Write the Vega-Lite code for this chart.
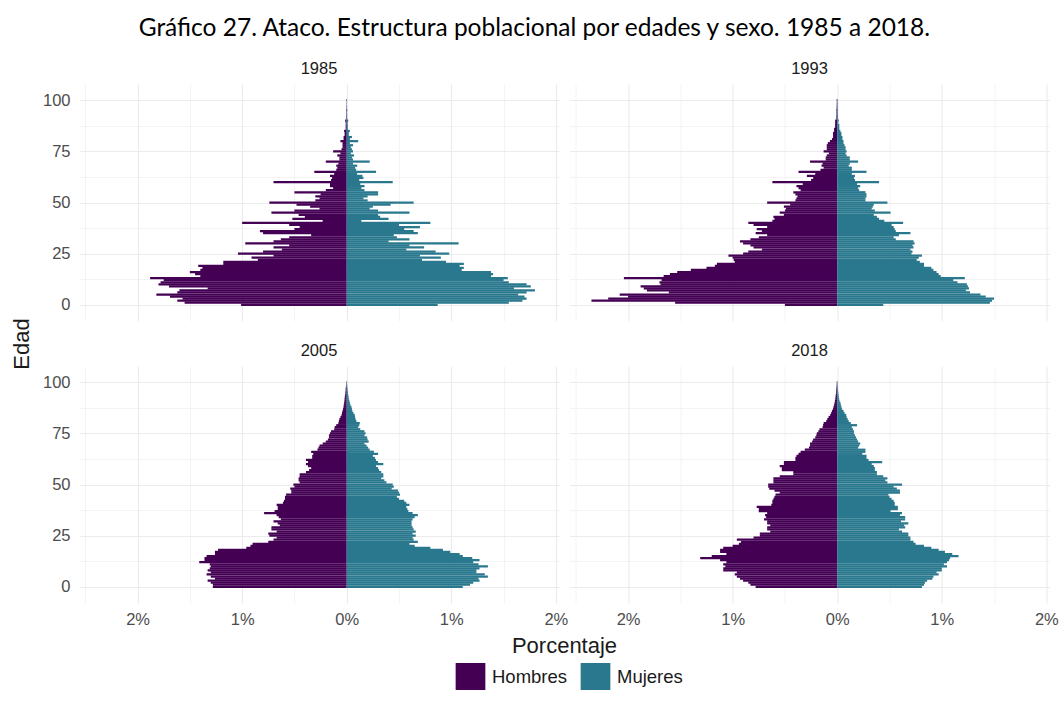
{
"$schema":"https://vega.github.io/schema/vega-lite/v6.json",
"background":"white",
"padding":{"left":10,"top":16,"right":5,"bottom":5},
"title":{"text":"Gráfico 27. Ataco. Estructura poblacional por edades y sexo. 1985 a 2018.","font":"Lato","fontSize":24.5,"fontWeight":"normal","color":"#000000","anchor":"middle","frame":"bounds","offset":19},
"datasets":{"pob":[
{"anio":1985,"sexo":"Hombres","edad":0,"pct":-1.01},{"anio":1985,"sexo":"Hombres","edad":1,"pct":-1.55},{"anio":1985,"sexo":"Hombres","edad":2,"pct":-1.62},{"anio":1985,"sexo":"Hombres","edad":3,"pct":-1.57},{"anio":1985,"sexo":"Hombres","edad":4,"pct":-1.69},{"anio":1985,"sexo":"Hombres","edad":5,"pct":-1.82},{"anio":1985,"sexo":"Hombres","edad":6,"pct":-1.62},{"anio":1985,"sexo":"Hombres","edad":7,"pct":-1.60},{"anio":1985,"sexo":"Hombres","edad":8,"pct":-1.33},{"anio":1985,"sexo":"Hombres","edad":9,"pct":-1.70},
{"anio":1985,"sexo":"Hombres","edad":10,"pct":-1.80},{"anio":1985,"sexo":"Hombres","edad":11,"pct":-1.78},{"anio":1985,"sexo":"Hombres","edad":12,"pct":-1.75},{"anio":1985,"sexo":"Hombres","edad":13,"pct":-1.88},{"anio":1985,"sexo":"Hombres","edad":14,"pct":-1.40},{"anio":1985,"sexo":"Hombres","edad":15,"pct":-1.45},{"anio":1985,"sexo":"Hombres","edad":16,"pct":-1.50},{"anio":1985,"sexo":"Hombres","edad":17,"pct":-1.40},{"anio":1985,"sexo":"Hombres","edad":18,"pct":-1.38},{"anio":1985,"sexo":"Hombres","edad":19,"pct":-1.42},
{"anio":1985,"sexo":"Hombres","edad":20,"pct":-1.18},{"anio":1985,"sexo":"Hombres","edad":21,"pct":-1.18},{"anio":1985,"sexo":"Hombres","edad":22,"pct":-0.85},{"anio":1985,"sexo":"Hombres","edad":23,"pct":-0.91},{"anio":1985,"sexo":"Hombres","edad":24,"pct":-0.70},{"anio":1985,"sexo":"Hombres","edad":25,"pct":-1.04},{"anio":1985,"sexo":"Hombres","edad":26,"pct":-0.80},{"anio":1985,"sexo":"Hombres","edad":27,"pct":-0.62},{"anio":1985,"sexo":"Hombres","edad":28,"pct":-0.70},{"anio":1985,"sexo":"Hombres","edad":29,"pct":-0.55},
{"anio":1985,"sexo":"Hombres","edad":30,"pct":-0.97},{"anio":1985,"sexo":"Hombres","edad":31,"pct":-0.70},{"anio":1985,"sexo":"Hombres","edad":32,"pct":-0.63},{"anio":1985,"sexo":"Hombres","edad":33,"pct":-0.55},{"anio":1985,"sexo":"Hombres","edad":34,"pct":-0.34},{"anio":1985,"sexo":"Hombres","edad":35,"pct":-0.80},{"anio":1985,"sexo":"Hombres","edad":36,"pct":-0.83},{"anio":1985,"sexo":"Hombres","edad":37,"pct":-0.50},{"anio":1985,"sexo":"Hombres","edad":38,"pct":-0.45},{"anio":1985,"sexo":"Hombres","edad":39,"pct":-0.55},
{"anio":1985,"sexo":"Hombres","edad":40,"pct":-1.00},{"anio":1985,"sexo":"Hombres","edad":41,"pct":-0.23},{"anio":1985,"sexo":"Hombres","edad":42,"pct":-0.52},{"anio":1985,"sexo":"Hombres","edad":43,"pct":-0.40},{"anio":1985,"sexo":"Hombres","edad":44,"pct":-0.46},{"anio":1985,"sexo":"Hombres","edad":45,"pct":-0.72},{"anio":1985,"sexo":"Hombres","edad":46,"pct":-0.50},{"anio":1985,"sexo":"Hombres","edad":47,"pct":-0.26},{"anio":1985,"sexo":"Hombres","edad":48,"pct":-0.35},{"anio":1985,"sexo":"Hombres","edad":49,"pct":-0.48},
{"anio":1985,"sexo":"Hombres","edad":50,"pct":-0.74},{"anio":1985,"sexo":"Hombres","edad":51,"pct":-0.30},{"anio":1985,"sexo":"Hombres","edad":52,"pct":-0.26},{"anio":1985,"sexo":"Hombres","edad":53,"pct":-0.30},{"anio":1985,"sexo":"Hombres","edad":54,"pct":-0.25},{"anio":1985,"sexo":"Hombres","edad":55,"pct":-0.50},{"anio":1985,"sexo":"Hombres","edad":56,"pct":-0.20},{"anio":1985,"sexo":"Hombres","edad":57,"pct":-0.13},{"anio":1985,"sexo":"Hombres","edad":58,"pct":-0.16},{"anio":1985,"sexo":"Hombres","edad":59,"pct":-0.16},
{"anio":1985,"sexo":"Hombres","edad":60,"pct":-0.70},{"anio":1985,"sexo":"Hombres","edad":61,"pct":-0.15},{"anio":1985,"sexo":"Hombres","edad":62,"pct":-0.14},{"anio":1985,"sexo":"Hombres","edad":63,"pct":-0.16},{"anio":1985,"sexo":"Hombres","edad":64,"pct":-0.12},{"anio":1985,"sexo":"Hombres","edad":65,"pct":-0.31},{"anio":1985,"sexo":"Hombres","edad":66,"pct":-0.10},{"anio":1985,"sexo":"Hombres","edad":67,"pct":-0.09},{"anio":1985,"sexo":"Hombres","edad":68,"pct":-0.10},{"anio":1985,"sexo":"Hombres","edad":69,"pct":-0.08},
{"anio":1985,"sexo":"Hombres","edad":70,"pct":-0.20},{"anio":1985,"sexo":"Hombres","edad":71,"pct":-0.07},{"anio":1985,"sexo":"Hombres","edad":72,"pct":-0.07},{"anio":1985,"sexo":"Hombres","edad":73,"pct":-0.09},{"anio":1985,"sexo":"Hombres","edad":74,"pct":-0.06},{"anio":1985,"sexo":"Hombres","edad":75,"pct":-0.13},{"anio":1985,"sexo":"Hombres","edad":76,"pct":-0.05},{"anio":1985,"sexo":"Hombres","edad":77,"pct":-0.04},{"anio":1985,"sexo":"Hombres","edad":78,"pct":-0.04},{"anio":1985,"sexo":"Hombres","edad":79,"pct":-0.04},
{"anio":1985,"sexo":"Hombres","edad":80,"pct":-0.06},{"anio":1985,"sexo":"Hombres","edad":81,"pct":-0.03},{"anio":1985,"sexo":"Hombres","edad":82,"pct":-0.03},{"anio":1985,"sexo":"Hombres","edad":83,"pct":-0.02},{"anio":1985,"sexo":"Hombres","edad":84,"pct":-0.02},{"anio":1985,"sexo":"Hombres","edad":85,"pct":-0.025},{"anio":1985,"sexo":"Hombres","edad":86,"pct":-0.01},{"anio":1985,"sexo":"Hombres","edad":87,"pct":-0.01},{"anio":1985,"sexo":"Hombres","edad":88,"pct":-0.01},{"anio":1985,"sexo":"Hombres","edad":89,"pct":-0.01},
{"anio":1985,"sexo":"Hombres","edad":90,"pct":-0.015},{"anio":1985,"sexo":"Hombres","edad":91,"pct":-0.005},{"anio":1985,"sexo":"Hombres","edad":92,"pct":-0.005},{"anio":1985,"sexo":"Hombres","edad":93,"pct":-0.004},{"anio":1985,"sexo":"Hombres","edad":94,"pct":-0.004},{"anio":1985,"sexo":"Hombres","edad":95,"pct":-0.006},{"anio":1985,"sexo":"Hombres","edad":96,"pct":-0.003},{"anio":1985,"sexo":"Hombres","edad":97,"pct":-0.003},{"anio":1985,"sexo":"Hombres","edad":98,"pct":-0.002},{"anio":1985,"sexo":"Hombres","edad":99,"pct":-0.002},{"anio":1985,"sexo":"Hombres","edad":100,"pct":-0.004},
{"anio":1985,"sexo":"Mujeres","edad":0,"pct":0.87},{"anio":1985,"sexo":"Mujeres","edad":1,"pct":1.55},{"anio":1985,"sexo":"Mujeres","edad":2,"pct":1.68},{"anio":1985,"sexo":"Mujeres","edad":3,"pct":1.72},{"anio":1985,"sexo":"Mujeres","edad":4,"pct":1.70},{"anio":1985,"sexo":"Mujeres","edad":5,"pct":1.64},{"anio":1985,"sexo":"Mujeres","edad":6,"pct":1.72},{"anio":1985,"sexo":"Mujeres","edad":7,"pct":1.80},{"anio":1985,"sexo":"Mujeres","edad":8,"pct":1.60},{"anio":1985,"sexo":"Mujeres","edad":9,"pct":1.76},
{"anio":1985,"sexo":"Mujeres","edad":10,"pct":1.72},{"anio":1985,"sexo":"Mujeres","edad":11,"pct":1.55},{"anio":1985,"sexo":"Mujeres","edad":12,"pct":1.50},{"anio":1985,"sexo":"Mujeres","edad":13,"pct":1.54},{"anio":1985,"sexo":"Mujeres","edad":14,"pct":1.38},{"anio":1985,"sexo":"Mujeres","edad":15,"pct":1.40},{"anio":1985,"sexo":"Mujeres","edad":16,"pct":1.38},{"anio":1985,"sexo":"Mujeres","edad":17,"pct":1.10},{"anio":1985,"sexo":"Mujeres","edad":18,"pct":1.12},{"anio":1985,"sexo":"Mujeres","edad":19,"pct":1.08},
{"anio":1985,"sexo":"Mujeres","edad":20,"pct":1.12},{"anio":1985,"sexo":"Mujeres","edad":21,"pct":0.95},{"anio":1985,"sexo":"Mujeres","edad":22,"pct":0.72},{"anio":1985,"sexo":"Mujeres","edad":23,"pct":0.90},{"anio":1985,"sexo":"Mujeres","edad":24,"pct":0.70},{"anio":1985,"sexo":"Mujeres","edad":25,"pct":0.98},{"anio":1985,"sexo":"Mujeres","edad":26,"pct":0.85},{"anio":1985,"sexo":"Mujeres","edad":27,"pct":0.57},{"anio":1985,"sexo":"Mujeres","edad":28,"pct":0.74},{"anio":1985,"sexo":"Mujeres","edad":29,"pct":0.60},
{"anio":1985,"sexo":"Mujeres","edad":30,"pct":1.07},{"anio":1985,"sexo":"Mujeres","edad":31,"pct":0.40},{"anio":1985,"sexo":"Mujeres","edad":32,"pct":0.60},{"anio":1985,"sexo":"Mujeres","edad":33,"pct":0.48},{"anio":1985,"sexo":"Mujeres","edad":34,"pct":0.45},{"anio":1985,"sexo":"Mujeres","edad":35,"pct":0.68},{"anio":1985,"sexo":"Mujeres","edad":36,"pct":0.64},{"anio":1985,"sexo":"Mujeres","edad":37,"pct":0.55},{"anio":1985,"sexo":"Mujeres","edad":38,"pct":0.70},{"anio":1985,"sexo":"Mujeres","edad":39,"pct":0.50},
{"anio":1985,"sexo":"Mujeres","edad":40,"pct":0.80},{"anio":1985,"sexo":"Mujeres","edad":41,"pct":0.14},{"anio":1985,"sexo":"Mujeres","edad":42,"pct":0.40},{"anio":1985,"sexo":"Mujeres","edad":43,"pct":0.32},{"anio":1985,"sexo":"Mujeres","edad":44,"pct":0.30},{"anio":1985,"sexo":"Mujeres","edad":45,"pct":0.60},{"anio":1985,"sexo":"Mujeres","edad":46,"pct":0.30},{"anio":1985,"sexo":"Mujeres","edad":47,"pct":0.22},{"anio":1985,"sexo":"Mujeres","edad":48,"pct":0.25},{"anio":1985,"sexo":"Mujeres","edad":49,"pct":0.42},
{"anio":1985,"sexo":"Mujeres","edad":50,"pct":0.64},{"anio":1985,"sexo":"Mujeres","edad":51,"pct":0.20},{"anio":1985,"sexo":"Mujeres","edad":52,"pct":0.16},{"anio":1985,"sexo":"Mujeres","edad":53,"pct":0.20},{"anio":1985,"sexo":"Mujeres","edad":54,"pct":0.30},{"anio":1985,"sexo":"Mujeres","edad":55,"pct":0.30},{"anio":1985,"sexo":"Mujeres","edad":56,"pct":0.17},{"anio":1985,"sexo":"Mujeres","edad":57,"pct":0.14},{"anio":1985,"sexo":"Mujeres","edad":58,"pct":0.17},{"anio":1985,"sexo":"Mujeres","edad":59,"pct":0.13},
{"anio":1985,"sexo":"Mujeres","edad":60,"pct":0.44},{"anio":1985,"sexo":"Mujeres","edad":61,"pct":0.12},{"anio":1985,"sexo":"Mujeres","edad":62,"pct":0.16},{"anio":1985,"sexo":"Mujeres","edad":63,"pct":0.15},{"anio":1985,"sexo":"Mujeres","edad":64,"pct":0.10},{"anio":1985,"sexo":"Mujeres","edad":65,"pct":0.28},{"anio":1985,"sexo":"Mujeres","edad":66,"pct":0.09},{"anio":1985,"sexo":"Mujeres","edad":67,"pct":0.08},{"anio":1985,"sexo":"Mujeres","edad":68,"pct":0.10},{"anio":1985,"sexo":"Mujeres","edad":69,"pct":0.06},
{"anio":1985,"sexo":"Mujeres","edad":70,"pct":0.22},{"anio":1985,"sexo":"Mujeres","edad":71,"pct":0.06},{"anio":1985,"sexo":"Mujeres","edad":72,"pct":0.05},{"anio":1985,"sexo":"Mujeres","edad":73,"pct":0.07},{"anio":1985,"sexo":"Mujeres","edad":74,"pct":0.04},{"anio":1985,"sexo":"Mujeres","edad":75,"pct":0.06},{"anio":1985,"sexo":"Mujeres","edad":76,"pct":0.05},{"anio":1985,"sexo":"Mujeres","edad":77,"pct":0.04},{"anio":1985,"sexo":"Mujeres","edad":78,"pct":0.06},{"anio":1985,"sexo":"Mujeres","edad":79,"pct":0.03},
{"anio":1985,"sexo":"Mujeres","edad":80,"pct":0.11},{"anio":1985,"sexo":"Mujeres","edad":81,"pct":0.03},{"anio":1985,"sexo":"Mujeres","edad":82,"pct":0.05},{"anio":1985,"sexo":"Mujeres","edad":83,"pct":0.02},{"anio":1985,"sexo":"Mujeres","edad":84,"pct":0.02},{"anio":1985,"sexo":"Mujeres","edad":85,"pct":0.03},{"anio":1985,"sexo":"Mujeres","edad":86,"pct":0.01},{"anio":1985,"sexo":"Mujeres","edad":87,"pct":0.01},{"anio":1985,"sexo":"Mujeres","edad":88,"pct":0.01},{"anio":1985,"sexo":"Mujeres","edad":89,"pct":0.01},
{"anio":1985,"sexo":"Mujeres","edad":90,"pct":0.015},{"anio":1985,"sexo":"Mujeres","edad":91,"pct":0.005},{"anio":1985,"sexo":"Mujeres","edad":92,"pct":0.004},{"anio":1985,"sexo":"Mujeres","edad":93,"pct":0.004},{"anio":1985,"sexo":"Mujeres","edad":94,"pct":0.003},{"anio":1985,"sexo":"Mujeres","edad":95,"pct":0.005},{"anio":1985,"sexo":"Mujeres","edad":96,"pct":0.003},{"anio":1985,"sexo":"Mujeres","edad":97,"pct":0.002},{"anio":1985,"sexo":"Mujeres","edad":98,"pct":0.002},{"anio":1985,"sexo":"Mujeres","edad":99,"pct":0.002},{"anio":1985,"sexo":"Mujeres","edad":100,"pct":0.003},
{"anio":1993,"sexo":"Hombres","edad":0,"pct":-0.50},{"anio":1993,"sexo":"Hombres","edad":1,"pct":-1.55},{"anio":1993,"sexo":"Hombres","edad":2,"pct":-2.35},{"anio":1993,"sexo":"Hombres","edad":3,"pct":-2.19},{"anio":1993,"sexo":"Hombres","edad":4,"pct":-2.00},{"anio":1993,"sexo":"Hombres","edad":5,"pct":-2.08},{"anio":1993,"sexo":"Hombres","edad":6,"pct":-1.61},{"anio":1993,"sexo":"Hombres","edad":7,"pct":-1.82},{"anio":1993,"sexo":"Hombres","edad":8,"pct":-1.85},{"anio":1993,"sexo":"Hombres","edad":9,"pct":-1.88},
{"anio":1993,"sexo":"Hombres","edad":10,"pct":-1.69},{"anio":1993,"sexo":"Hombres","edad":11,"pct":-1.70},{"anio":1993,"sexo":"Hombres","edad":12,"pct":-1.68},{"anio":1993,"sexo":"Hombres","edad":13,"pct":-2.04},{"anio":1993,"sexo":"Hombres","edad":14,"pct":-1.66},{"anio":1993,"sexo":"Hombres","edad":15,"pct":-1.60},{"anio":1993,"sexo":"Hombres","edad":16,"pct":-1.53},{"anio":1993,"sexo":"Hombres","edad":17,"pct":-1.40},{"anio":1993,"sexo":"Hombres","edad":18,"pct":-1.25},{"anio":1993,"sexo":"Hombres","edad":19,"pct":-1.17},
{"anio":1993,"sexo":"Hombres","edad":20,"pct":-1.15},{"anio":1993,"sexo":"Hombres","edad":21,"pct":-0.98},{"anio":1993,"sexo":"Hombres","edad":22,"pct":-0.99},{"anio":1993,"sexo":"Hombres","edad":23,"pct":-1.00},{"anio":1993,"sexo":"Hombres","edad":24,"pct":-1.04},{"anio":1993,"sexo":"Hombres","edad":25,"pct":-0.90},{"anio":1993,"sexo":"Hombres","edad":26,"pct":-0.85},{"anio":1993,"sexo":"Hombres","edad":27,"pct":-0.72},{"anio":1993,"sexo":"Hombres","edad":28,"pct":-0.80},{"anio":1993,"sexo":"Hombres","edad":29,"pct":-0.83},
{"anio":1993,"sexo":"Hombres","edad":30,"pct":-0.90},{"anio":1993,"sexo":"Hombres","edad":31,"pct":-0.93},{"anio":1993,"sexo":"Hombres","edad":32,"pct":-0.83},{"anio":1993,"sexo":"Hombres","edad":33,"pct":-0.75},{"anio":1993,"sexo":"Hombres","edad":34,"pct":-0.67},{"anio":1993,"sexo":"Hombres","edad":35,"pct":-0.78},{"anio":1993,"sexo":"Hombres","edad":36,"pct":-0.72},{"anio":1993,"sexo":"Hombres","edad":37,"pct":-0.77},{"anio":1993,"sexo":"Hombres","edad":38,"pct":-0.67},{"anio":1993,"sexo":"Hombres","edad":39,"pct":-0.80},
{"anio":1993,"sexo":"Hombres","edad":40,"pct":-0.85},{"anio":1993,"sexo":"Hombres","edad":41,"pct":-0.62},{"anio":1993,"sexo":"Hombres","edad":42,"pct":-0.60},{"anio":1993,"sexo":"Hombres","edad":43,"pct":-0.61},{"anio":1993,"sexo":"Hombres","edad":44,"pct":-0.51},{"anio":1993,"sexo":"Hombres","edad":45,"pct":-0.55},{"anio":1993,"sexo":"Hombres","edad":46,"pct":-0.50},{"anio":1993,"sexo":"Hombres","edad":47,"pct":-0.49},{"anio":1993,"sexo":"Hombres","edad":48,"pct":-0.51},{"anio":1993,"sexo":"Hombres","edad":49,"pct":-0.45},
{"anio":1993,"sexo":"Hombres","edad":50,"pct":-0.67},{"anio":1993,"sexo":"Hombres","edad":51,"pct":-0.40},{"anio":1993,"sexo":"Hombres","edad":52,"pct":-0.39},{"anio":1993,"sexo":"Hombres","edad":53,"pct":-0.38},{"anio":1993,"sexo":"Hombres","edad":54,"pct":-0.40},{"anio":1993,"sexo":"Hombres","edad":55,"pct":-0.42},{"anio":1993,"sexo":"Hombres","edad":56,"pct":-0.35},{"anio":1993,"sexo":"Hombres","edad":57,"pct":-0.37},{"anio":1993,"sexo":"Hombres","edad":58,"pct":-0.39},{"anio":1993,"sexo":"Hombres","edad":59,"pct":-0.33},
{"anio":1993,"sexo":"Hombres","edad":60,"pct":-0.62},{"anio":1993,"sexo":"Hombres","edad":61,"pct":-0.25},{"anio":1993,"sexo":"Hombres","edad":62,"pct":-0.23},{"anio":1993,"sexo":"Hombres","edad":63,"pct":-0.29},{"anio":1993,"sexo":"Hombres","edad":64,"pct":-0.21},{"anio":1993,"sexo":"Hombres","edad":65,"pct":-0.37},{"anio":1993,"sexo":"Hombres","edad":66,"pct":-0.16},{"anio":1993,"sexo":"Hombres","edad":67,"pct":-0.13},{"anio":1993,"sexo":"Hombres","edad":68,"pct":-0.15},{"anio":1993,"sexo":"Hombres","edad":69,"pct":-0.14},
{"anio":1993,"sexo":"Hombres","edad":70,"pct":-0.26},{"anio":1993,"sexo":"Hombres","edad":71,"pct":-0.11},{"anio":1993,"sexo":"Hombres","edad":72,"pct":-0.11},{"anio":1993,"sexo":"Hombres","edad":73,"pct":-0.10},{"anio":1993,"sexo":"Hombres","edad":74,"pct":-0.08},{"anio":1993,"sexo":"Hombres","edad":75,"pct":-0.13},{"anio":1993,"sexo":"Hombres","edad":76,"pct":-0.10},{"anio":1993,"sexo":"Hombres","edad":77,"pct":-0.10},{"anio":1993,"sexo":"Hombres","edad":78,"pct":-0.10},{"anio":1993,"sexo":"Hombres","edad":79,"pct":-0.09},
{"anio":1993,"sexo":"Hombres","edad":80,"pct":-0.07},{"anio":1993,"sexo":"Hombres","edad":81,"pct":-0.05},{"anio":1993,"sexo":"Hombres","edad":82,"pct":-0.04},{"anio":1993,"sexo":"Hombres","edad":83,"pct":-0.04},{"anio":1993,"sexo":"Hombres","edad":84,"pct":-0.04},{"anio":1993,"sexo":"Hombres","edad":85,"pct":-0.03},{"anio":1993,"sexo":"Hombres","edad":86,"pct":-0.03},{"anio":1993,"sexo":"Hombres","edad":87,"pct":-0.02},{"anio":1993,"sexo":"Hombres","edad":88,"pct":-0.02},{"anio":1993,"sexo":"Hombres","edad":89,"pct":-0.02},
{"anio":1993,"sexo":"Hombres","edad":90,"pct":-0.02},{"anio":1993,"sexo":"Hombres","edad":91,"pct":-0.008},{"anio":1993,"sexo":"Hombres","edad":92,"pct":-0.008},{"anio":1993,"sexo":"Hombres","edad":93,"pct":-0.007},{"anio":1993,"sexo":"Hombres","edad":94,"pct":-0.007},{"anio":1993,"sexo":"Hombres","edad":95,"pct":-0.008},{"anio":1993,"sexo":"Hombres","edad":96,"pct":-0.006},{"anio":1993,"sexo":"Hombres","edad":97,"pct":-0.005},{"anio":1993,"sexo":"Hombres","edad":98,"pct":-0.005},{"anio":1993,"sexo":"Hombres","edad":99,"pct":-0.004},{"anio":1993,"sexo":"Hombres","edad":100,"pct":-0.005},
{"anio":1993,"sexo":"Mujeres","edad":0,"pct":0.44},{"anio":1993,"sexo":"Mujeres","edad":1,"pct":1.46},{"anio":1993,"sexo":"Mujeres","edad":2,"pct":1.48},{"anio":1993,"sexo":"Mujeres","edad":3,"pct":1.50},{"anio":1993,"sexo":"Mujeres","edad":4,"pct":1.42},{"anio":1993,"sexo":"Mujeres","edad":5,"pct":1.37},{"anio":1993,"sexo":"Mujeres","edad":6,"pct":1.27},{"anio":1993,"sexo":"Mujeres","edad":7,"pct":1.23},{"anio":1993,"sexo":"Mujeres","edad":8,"pct":1.26},{"anio":1993,"sexo":"Mujeres","edad":9,"pct":1.25},
{"anio":1993,"sexo":"Mujeres","edad":10,"pct":1.24},{"anio":1993,"sexo":"Mujeres","edad":11,"pct":1.15},{"anio":1993,"sexo":"Mujeres","edad":12,"pct":1.11},{"anio":1993,"sexo":"Mujeres","edad":13,"pct":1.22},{"anio":1993,"sexo":"Mujeres","edad":14,"pct":0.99},{"anio":1993,"sexo":"Mujeres","edad":15,"pct":0.97},{"anio":1993,"sexo":"Mujeres","edad":16,"pct":0.95},{"anio":1993,"sexo":"Mujeres","edad":17,"pct":0.92},{"anio":1993,"sexo":"Mujeres","edad":18,"pct":0.90},{"anio":1993,"sexo":"Mujeres","edad":19,"pct":0.83},
{"anio":1993,"sexo":"Mujeres","edad":20,"pct":0.83},{"anio":1993,"sexo":"Mujeres","edad":21,"pct":0.79},{"anio":1993,"sexo":"Mujeres","edad":22,"pct":0.76},{"anio":1993,"sexo":"Mujeres","edad":23,"pct":0.78},{"anio":1993,"sexo":"Mujeres","edad":24,"pct":0.81},{"anio":1993,"sexo":"Mujeres","edad":25,"pct":0.71},{"anio":1993,"sexo":"Mujeres","edad":26,"pct":0.72},{"anio":1993,"sexo":"Mujeres","edad":27,"pct":0.70},{"anio":1993,"sexo":"Mujeres","edad":28,"pct":0.73},{"anio":1993,"sexo":"Mujeres","edad":29,"pct":0.72},
{"anio":1993,"sexo":"Mujeres","edad":30,"pct":0.74},{"anio":1993,"sexo":"Mujeres","edad":31,"pct":0.73},{"anio":1993,"sexo":"Mujeres","edad":32,"pct":0.56},{"anio":1993,"sexo":"Mujeres","edad":33,"pct":0.54},{"anio":1993,"sexo":"Mujeres","edad":34,"pct":0.59},{"anio":1993,"sexo":"Mujeres","edad":35,"pct":0.70},{"anio":1993,"sexo":"Mujeres","edad":36,"pct":0.56},{"anio":1993,"sexo":"Mujeres","edad":37,"pct":0.55},{"anio":1993,"sexo":"Mujeres","edad":38,"pct":0.54},{"anio":1993,"sexo":"Mujeres","edad":39,"pct":0.52},
{"anio":1993,"sexo":"Mujeres","edad":40,"pct":0.63},{"anio":1993,"sexo":"Mujeres","edad":41,"pct":0.45},{"anio":1993,"sexo":"Mujeres","edad":42,"pct":0.40},{"anio":1993,"sexo":"Mujeres","edad":43,"pct":0.38},{"anio":1993,"sexo":"Mujeres","edad":44,"pct":0.35},{"anio":1993,"sexo":"Mujeres","edad":45,"pct":0.51},{"anio":1993,"sexo":"Mujeres","edad":46,"pct":0.36},{"anio":1993,"sexo":"Mujeres","edad":47,"pct":0.33},{"anio":1993,"sexo":"Mujeres","edad":48,"pct":0.34},{"anio":1993,"sexo":"Mujeres","edad":49,"pct":0.35},
{"anio":1993,"sexo":"Mujeres","edad":50,"pct":0.48},{"anio":1993,"sexo":"Mujeres","edad":51,"pct":0.27},{"anio":1993,"sexo":"Mujeres","edad":52,"pct":0.27},{"anio":1993,"sexo":"Mujeres","edad":53,"pct":0.28},{"anio":1993,"sexo":"Mujeres","edad":54,"pct":0.28},{"anio":1993,"sexo":"Mujeres","edad":55,"pct":0.27},{"anio":1993,"sexo":"Mujeres","edad":56,"pct":0.21},{"anio":1993,"sexo":"Mujeres","edad":57,"pct":0.20},{"anio":1993,"sexo":"Mujeres","edad":58,"pct":0.22},{"anio":1993,"sexo":"Mujeres","edad":59,"pct":0.19},
{"anio":1993,"sexo":"Mujeres","edad":60,"pct":0.40},{"anio":1993,"sexo":"Mujeres","edad":61,"pct":0.17},{"anio":1993,"sexo":"Mujeres","edad":62,"pct":0.16},{"anio":1993,"sexo":"Mujeres","edad":63,"pct":0.17},{"anio":1993,"sexo":"Mujeres","edad":64,"pct":0.14},{"anio":1993,"sexo":"Mujeres","edad":65,"pct":0.28},{"anio":1993,"sexo":"Mujeres","edad":66,"pct":0.14},{"anio":1993,"sexo":"Mujeres","edad":67,"pct":0.14},{"anio":1993,"sexo":"Mujeres","edad":68,"pct":0.11},{"anio":1993,"sexo":"Mujeres","edad":69,"pct":0.12},
{"anio":1993,"sexo":"Mujeres","edad":70,"pct":0.20},{"anio":1993,"sexo":"Mujeres","edad":71,"pct":0.12},{"anio":1993,"sexo":"Mujeres","edad":72,"pct":0.12},{"anio":1993,"sexo":"Mujeres","edad":73,"pct":0.09},{"anio":1993,"sexo":"Mujeres","edad":74,"pct":0.08},{"anio":1993,"sexo":"Mujeres","edad":75,"pct":0.09},{"anio":1993,"sexo":"Mujeres","edad":76,"pct":0.08},{"anio":1993,"sexo":"Mujeres","edad":77,"pct":0.08},{"anio":1993,"sexo":"Mujeres","edad":78,"pct":0.07},{"anio":1993,"sexo":"Mujeres","edad":79,"pct":0.06},
{"anio":1993,"sexo":"Mujeres","edad":80,"pct":0.06},{"anio":1993,"sexo":"Mujeres","edad":81,"pct":0.05},{"anio":1993,"sexo":"Mujeres","edad":82,"pct":0.05},{"anio":1993,"sexo":"Mujeres","edad":83,"pct":0.04},{"anio":1993,"sexo":"Mujeres","edad":84,"pct":0.04},{"anio":1993,"sexo":"Mujeres","edad":85,"pct":0.03},{"anio":1993,"sexo":"Mujeres","edad":86,"pct":0.02},{"anio":1993,"sexo":"Mujeres","edad":87,"pct":0.02},{"anio":1993,"sexo":"Mujeres","edad":88,"pct":0.02},{"anio":1993,"sexo":"Mujeres","edad":89,"pct":0.01},
{"anio":1993,"sexo":"Mujeres","edad":90,"pct":0.015},{"anio":1993,"sexo":"Mujeres","edad":91,"pct":0.008},{"anio":1993,"sexo":"Mujeres","edad":92,"pct":0.008},{"anio":1993,"sexo":"Mujeres","edad":93,"pct":0.007},{"anio":1993,"sexo":"Mujeres","edad":94,"pct":0.006},{"anio":1993,"sexo":"Mujeres","edad":95,"pct":0.007},{"anio":1993,"sexo":"Mujeres","edad":96,"pct":0.005},{"anio":1993,"sexo":"Mujeres","edad":97,"pct":0.005},{"anio":1993,"sexo":"Mujeres","edad":98,"pct":0.004},{"anio":1993,"sexo":"Mujeres","edad":99,"pct":0.004},{"anio":1993,"sexo":"Mujeres","edad":100,"pct":0.005},
{"anio":2005,"sexo":"Hombres","edad":0,"pct":-1.28},{"anio":2005,"sexo":"Hombres","edad":1,"pct":-1.28},{"anio":2005,"sexo":"Hombres","edad":2,"pct":-1.30},{"anio":2005,"sexo":"Hombres","edad":3,"pct":-1.33},{"anio":2005,"sexo":"Hombres","edad":4,"pct":-1.26},{"anio":2005,"sexo":"Hombres","edad":5,"pct":-1.30},{"anio":2005,"sexo":"Hombres","edad":6,"pct":-1.34},{"anio":2005,"sexo":"Hombres","edad":7,"pct":-1.30},{"anio":2005,"sexo":"Hombres","edad":8,"pct":-1.33},{"anio":2005,"sexo":"Hombres","edad":9,"pct":-1.31},
{"anio":2005,"sexo":"Hombres","edad":10,"pct":-1.30},{"anio":2005,"sexo":"Hombres","edad":11,"pct":-1.31},{"anio":2005,"sexo":"Hombres","edad":12,"pct":-1.41},{"anio":2005,"sexo":"Hombres","edad":13,"pct":-1.36},{"anio":2005,"sexo":"Hombres","edad":14,"pct":-1.36},{"anio":2005,"sexo":"Hombres","edad":15,"pct":-1.34},{"anio":2005,"sexo":"Hombres","edad":16,"pct":-1.26},{"anio":2005,"sexo":"Hombres","edad":17,"pct":-1.26},{"anio":2005,"sexo":"Hombres","edad":18,"pct":-1.23},{"anio":2005,"sexo":"Hombres","edad":19,"pct":-0.96},
{"anio":2005,"sexo":"Hombres","edad":20,"pct":-0.92},{"anio":2005,"sexo":"Hombres","edad":21,"pct":-0.90},{"anio":2005,"sexo":"Hombres","edad":22,"pct":-0.75},{"anio":2005,"sexo":"Hombres","edad":23,"pct":-0.70},{"anio":2005,"sexo":"Hombres","edad":24,"pct":-0.67},{"anio":2005,"sexo":"Hombres","edad":25,"pct":-0.74},{"anio":2005,"sexo":"Hombres","edad":26,"pct":-0.75},{"anio":2005,"sexo":"Hombres","edad":27,"pct":-0.67},{"anio":2005,"sexo":"Hombres","edad":28,"pct":-0.72},{"anio":2005,"sexo":"Hombres","edad":29,"pct":-0.72},
{"anio":2005,"sexo":"Hombres","edad":30,"pct":-0.64},{"anio":2005,"sexo":"Hombres","edad":31,"pct":-0.66},{"anio":2005,"sexo":"Hombres","edad":32,"pct":-0.70},{"anio":2005,"sexo":"Hombres","edad":33,"pct":-0.63},{"anio":2005,"sexo":"Hombres","edad":34,"pct":-0.65},{"anio":2005,"sexo":"Hombres","edad":35,"pct":-0.67},{"anio":2005,"sexo":"Hombres","edad":36,"pct":-0.79},{"anio":2005,"sexo":"Hombres","edad":37,"pct":-0.69},{"anio":2005,"sexo":"Hombres","edad":38,"pct":-0.66},{"anio":2005,"sexo":"Hombres","edad":39,"pct":-0.66},
{"anio":2005,"sexo":"Hombres","edad":40,"pct":-0.67},{"anio":2005,"sexo":"Hombres","edad":41,"pct":-0.61},{"anio":2005,"sexo":"Hombres","edad":42,"pct":-0.60},{"anio":2005,"sexo":"Hombres","edad":43,"pct":-0.59},{"anio":2005,"sexo":"Hombres","edad":44,"pct":-0.59},{"anio":2005,"sexo":"Hombres","edad":45,"pct":-0.58},{"anio":2005,"sexo":"Hombres","edad":46,"pct":-0.53},{"anio":2005,"sexo":"Hombres","edad":47,"pct":-0.53},{"anio":2005,"sexo":"Hombres","edad":48,"pct":-0.54},{"anio":2005,"sexo":"Hombres","edad":49,"pct":-0.50},
{"anio":2005,"sexo":"Hombres","edad":50,"pct":-0.51},{"anio":2005,"sexo":"Hombres","edad":51,"pct":-0.45},{"anio":2005,"sexo":"Hombres","edad":52,"pct":-0.46},{"anio":2005,"sexo":"Hombres","edad":53,"pct":-0.46},{"anio":2005,"sexo":"Hombres","edad":54,"pct":-0.45},{"anio":2005,"sexo":"Hombres","edad":55,"pct":-0.45},{"anio":2005,"sexo":"Hombres","edad":56,"pct":-0.39},{"anio":2005,"sexo":"Hombres","edad":57,"pct":-0.36},{"anio":2005,"sexo":"Hombres","edad":58,"pct":-0.34},{"anio":2005,"sexo":"Hombres","edad":59,"pct":-0.37},
{"anio":2005,"sexo":"Hombres","edad":60,"pct":-0.39},{"anio":2005,"sexo":"Hombres","edad":61,"pct":-0.37},{"anio":2005,"sexo":"Hombres","edad":62,"pct":-0.39},{"anio":2005,"sexo":"Hombres","edad":63,"pct":-0.33},{"anio":2005,"sexo":"Hombres","edad":64,"pct":-0.33},{"anio":2005,"sexo":"Hombres","edad":65,"pct":-0.32},{"anio":2005,"sexo":"Hombres","edad":66,"pct":-0.34},{"anio":2005,"sexo":"Hombres","edad":67,"pct":-0.28},{"anio":2005,"sexo":"Hombres","edad":68,"pct":-0.27},{"anio":2005,"sexo":"Hombres","edad":69,"pct":-0.26},
{"anio":2005,"sexo":"Hombres","edad":70,"pct":-0.23},{"anio":2005,"sexo":"Hombres","edad":71,"pct":-0.20},{"anio":2005,"sexo":"Hombres","edad":72,"pct":-0.18},{"anio":2005,"sexo":"Hombres","edad":73,"pct":-0.17},{"anio":2005,"sexo":"Hombres","edad":74,"pct":-0.17},{"anio":2005,"sexo":"Hombres","edad":75,"pct":-0.16},{"anio":2005,"sexo":"Hombres","edad":76,"pct":-0.15},{"anio":2005,"sexo":"Hombres","edad":77,"pct":-0.12},{"anio":2005,"sexo":"Hombres","edad":78,"pct":-0.115},{"anio":2005,"sexo":"Hombres","edad":79,"pct":-0.10},
{"anio":2005,"sexo":"Hombres","edad":80,"pct":-0.08},{"anio":2005,"sexo":"Hombres","edad":81,"pct":-0.075},{"anio":2005,"sexo":"Hombres","edad":82,"pct":-0.07},{"anio":2005,"sexo":"Hombres","edad":83,"pct":-0.06},{"anio":2005,"sexo":"Hombres","edad":84,"pct":-0.05},{"anio":2005,"sexo":"Hombres","edad":85,"pct":-0.045},{"anio":2005,"sexo":"Hombres","edad":86,"pct":-0.04},{"anio":2005,"sexo":"Hombres","edad":87,"pct":-0.035},{"anio":2005,"sexo":"Hombres","edad":88,"pct":-0.03},{"anio":2005,"sexo":"Hombres","edad":89,"pct":-0.028},
{"anio":2005,"sexo":"Hombres","edad":90,"pct":-0.025},{"anio":2005,"sexo":"Hombres","edad":91,"pct":-0.022},{"anio":2005,"sexo":"Hombres","edad":92,"pct":-0.02},{"anio":2005,"sexo":"Hombres","edad":93,"pct":-0.018},{"anio":2005,"sexo":"Hombres","edad":94,"pct":-0.015},{"anio":2005,"sexo":"Hombres","edad":95,"pct":-0.013},{"anio":2005,"sexo":"Hombres","edad":96,"pct":-0.01},{"anio":2005,"sexo":"Hombres","edad":97,"pct":-0.01},{"anio":2005,"sexo":"Hombres","edad":98,"pct":-0.006},{"anio":2005,"sexo":"Hombres","edad":99,"pct":-0.004},{"anio":2005,"sexo":"Hombres","edad":100,"pct":-0.003},
{"anio":2005,"sexo":"Mujeres","edad":0,"pct":1.11},{"anio":2005,"sexo":"Mujeres","edad":1,"pct":1.18},{"anio":2005,"sexo":"Mujeres","edad":2,"pct":1.21},{"anio":2005,"sexo":"Mujeres","edad":3,"pct":1.27},{"anio":2005,"sexo":"Mujeres","edad":4,"pct":1.26},{"anio":2005,"sexo":"Mujeres","edad":5,"pct":1.35},{"anio":2005,"sexo":"Mujeres","edad":6,"pct":1.32},{"anio":2005,"sexo":"Mujeres","edad":7,"pct":1.24},{"anio":2005,"sexo":"Mujeres","edad":8,"pct":1.24},{"anio":2005,"sexo":"Mujeres","edad":9,"pct":1.27},
{"anio":2005,"sexo":"Mujeres","edad":10,"pct":1.35},{"anio":2005,"sexo":"Mujeres","edad":11,"pct":1.26},{"anio":2005,"sexo":"Mujeres","edad":12,"pct":1.21},{"anio":2005,"sexo":"Mujeres","edad":13,"pct":1.27},{"anio":2005,"sexo":"Mujeres","edad":14,"pct":1.20},{"anio":2005,"sexo":"Mujeres","edad":15,"pct":1.11},{"anio":2005,"sexo":"Mujeres","edad":16,"pct":1.08},{"anio":2005,"sexo":"Mujeres","edad":17,"pct":0.99},{"anio":2005,"sexo":"Mujeres","edad":18,"pct":0.92},{"anio":2005,"sexo":"Mujeres","edad":19,"pct":0.80},
{"anio":2005,"sexo":"Mujeres","edad":20,"pct":0.65},{"anio":2005,"sexo":"Mujeres","edad":21,"pct":0.60},{"anio":2005,"sexo":"Mujeres","edad":22,"pct":0.68},{"anio":2005,"sexo":"Mujeres","edad":23,"pct":0.64},{"anio":2005,"sexo":"Mujeres","edad":24,"pct":0.63},{"anio":2005,"sexo":"Mujeres","edad":25,"pct":0.66},{"anio":2005,"sexo":"Mujeres","edad":26,"pct":0.63},{"anio":2005,"sexo":"Mujeres","edad":27,"pct":0.66},{"anio":2005,"sexo":"Mujeres","edad":28,"pct":0.64},{"anio":2005,"sexo":"Mujeres","edad":29,"pct":0.63},
{"anio":2005,"sexo":"Mujeres","edad":30,"pct":0.62},{"anio":2005,"sexo":"Mujeres","edad":31,"pct":0.62},{"anio":2005,"sexo":"Mujeres","edad":32,"pct":0.62},{"anio":2005,"sexo":"Mujeres","edad":33,"pct":0.63},{"anio":2005,"sexo":"Mujeres","edad":34,"pct":0.65},{"anio":2005,"sexo":"Mujeres","edad":35,"pct":0.68},{"anio":2005,"sexo":"Mujeres","edad":36,"pct":0.63},{"anio":2005,"sexo":"Mujeres","edad":37,"pct":0.59},{"anio":2005,"sexo":"Mujeres","edad":38,"pct":0.58},{"anio":2005,"sexo":"Mujeres","edad":39,"pct":0.57},
{"anio":2005,"sexo":"Mujeres","edad":40,"pct":0.60},{"anio":2005,"sexo":"Mujeres","edad":41,"pct":0.57},{"anio":2005,"sexo":"Mujeres","edad":42,"pct":0.55},{"anio":2005,"sexo":"Mujeres","edad":43,"pct":0.50},{"anio":2005,"sexo":"Mujeres","edad":44,"pct":0.48},{"anio":2005,"sexo":"Mujeres","edad":45,"pct":0.51},{"anio":2005,"sexo":"Mujeres","edad":46,"pct":0.50},{"anio":2005,"sexo":"Mujeres","edad":47,"pct":0.49},{"anio":2005,"sexo":"Mujeres","edad":48,"pct":0.43},{"anio":2005,"sexo":"Mujeres","edad":49,"pct":0.45},
{"anio":2005,"sexo":"Mujeres","edad":50,"pct":0.44},{"anio":2005,"sexo":"Mujeres","edad":51,"pct":0.38},{"anio":2005,"sexo":"Mujeres","edad":52,"pct":0.36},{"anio":2005,"sexo":"Mujeres","edad":53,"pct":0.33},{"anio":2005,"sexo":"Mujeres","edad":54,"pct":0.35},{"anio":2005,"sexo":"Mujeres","edad":55,"pct":0.35},{"anio":2005,"sexo":"Mujeres","edad":56,"pct":0.33},{"anio":2005,"sexo":"Mujeres","edad":57,"pct":0.31},{"anio":2005,"sexo":"Mujeres","edad":58,"pct":0.30},{"anio":2005,"sexo":"Mujeres","edad":59,"pct":0.28},
{"anio":2005,"sexo":"Mujeres","edad":60,"pct":0.35},{"anio":2005,"sexo":"Mujeres","edad":61,"pct":0.30},{"anio":2005,"sexo":"Mujeres","edad":62,"pct":0.28},{"anio":2005,"sexo":"Mujeres","edad":63,"pct":0.27},{"anio":2005,"sexo":"Mujeres","edad":64,"pct":0.25},{"anio":2005,"sexo":"Mujeres","edad":65,"pct":0.30},{"anio":2005,"sexo":"Mujeres","edad":66,"pct":0.26},{"anio":2005,"sexo":"Mujeres","edad":67,"pct":0.22},{"anio":2005,"sexo":"Mujeres","edad":68,"pct":0.205},{"anio":2005,"sexo":"Mujeres","edad":69,"pct":0.19},
{"anio":2005,"sexo":"Mujeres","edad":70,"pct":0.17},{"anio":2005,"sexo":"Mujeres","edad":71,"pct":0.21},{"anio":2005,"sexo":"Mujeres","edad":72,"pct":0.20},{"anio":2005,"sexo":"Mujeres","edad":73,"pct":0.195},{"anio":2005,"sexo":"Mujeres","edad":74,"pct":0.17},{"anio":2005,"sexo":"Mujeres","edad":75,"pct":0.18},{"anio":2005,"sexo":"Mujeres","edad":76,"pct":0.17},{"anio":2005,"sexo":"Mujeres","edad":77,"pct":0.13},{"anio":2005,"sexo":"Mujeres","edad":78,"pct":0.11},{"anio":2005,"sexo":"Mujeres","edad":79,"pct":0.12},
{"anio":2005,"sexo":"Mujeres","edad":80,"pct":0.125},{"anio":2005,"sexo":"Mujeres","edad":81,"pct":0.093},{"anio":2005,"sexo":"Mujeres","edad":82,"pct":0.085},{"anio":2005,"sexo":"Mujeres","edad":83,"pct":0.08},{"anio":2005,"sexo":"Mujeres","edad":84,"pct":0.077},{"anio":2005,"sexo":"Mujeres","edad":85,"pct":0.065},{"anio":2005,"sexo":"Mujeres","edad":86,"pct":0.054},{"anio":2005,"sexo":"Mujeres","edad":87,"pct":0.05},{"anio":2005,"sexo":"Mujeres","edad":88,"pct":0.045},{"anio":2005,"sexo":"Mujeres","edad":89,"pct":0.035},
{"anio":2005,"sexo":"Mujeres","edad":90,"pct":0.03},{"anio":2005,"sexo":"Mujeres","edad":91,"pct":0.025},{"anio":2005,"sexo":"Mujeres","edad":92,"pct":0.02},{"anio":2005,"sexo":"Mujeres","edad":93,"pct":0.017},{"anio":2005,"sexo":"Mujeres","edad":94,"pct":0.014},{"anio":2005,"sexo":"Mujeres","edad":95,"pct":0.012},{"anio":2005,"sexo":"Mujeres","edad":96,"pct":0.009},{"anio":2005,"sexo":"Mujeres","edad":97,"pct":0.007},{"anio":2005,"sexo":"Mujeres","edad":98,"pct":0.005},{"anio":2005,"sexo":"Mujeres","edad":99,"pct":0.004},{"anio":2005,"sexo":"Mujeres","edad":100,"pct":0.003},
{"anio":2018,"sexo":"Hombres","edad":0,"pct":-0.78},{"anio":2018,"sexo":"Hombres","edad":1,"pct":-0.83},{"anio":2018,"sexo":"Hombres","edad":2,"pct":-0.85},{"anio":2018,"sexo":"Hombres","edad":3,"pct":-0.90},{"anio":2018,"sexo":"Hombres","edad":4,"pct":-0.93},{"anio":2018,"sexo":"Hombres","edad":5,"pct":-0.96},{"anio":2018,"sexo":"Hombres","edad":6,"pct":-0.98},{"anio":2018,"sexo":"Hombres","edad":7,"pct":-0.96},{"anio":2018,"sexo":"Hombres","edad":8,"pct":-1.09},{"anio":2018,"sexo":"Hombres","edad":9,"pct":-1.09},
{"anio":2018,"sexo":"Hombres","edad":10,"pct":-1.07},{"anio":2018,"sexo":"Hombres","edad":11,"pct":-1.09},{"anio":2018,"sexo":"Hombres","edad":12,"pct":-1.06},{"anio":2018,"sexo":"Hombres","edad":13,"pct":-1.12},{"anio":2018,"sexo":"Hombres","edad":14,"pct":-1.31},{"anio":2018,"sexo":"Hombres","edad":15,"pct":-1.20},{"anio":2018,"sexo":"Hombres","edad":16,"pct":-1.06},{"anio":2018,"sexo":"Hombres","edad":17,"pct":-1.12},{"anio":2018,"sexo":"Hombres","edad":18,"pct":-1.12},{"anio":2018,"sexo":"Hombres","edad":19,"pct":-1.09},
{"anio":2018,"sexo":"Hombres","edad":20,"pct":-1.00},{"anio":2018,"sexo":"Hombres","edad":21,"pct":-0.94},{"anio":2018,"sexo":"Hombres","edad":22,"pct":-0.92},{"anio":2018,"sexo":"Hombres","edad":23,"pct":-0.96},{"anio":2018,"sexo":"Hombres","edad":24,"pct":-0.80},{"anio":2018,"sexo":"Hombres","edad":25,"pct":-0.74},{"anio":2018,"sexo":"Hombres","edad":26,"pct":-0.74},{"anio":2018,"sexo":"Hombres","edad":27,"pct":-0.64},{"anio":2018,"sexo":"Hombres","edad":28,"pct":-0.67},{"anio":2018,"sexo":"Hombres","edad":29,"pct":-0.67},
{"anio":2018,"sexo":"Hombres","edad":30,"pct":-0.64},{"anio":2018,"sexo":"Hombres","edad":31,"pct":-0.67},{"anio":2018,"sexo":"Hombres","edad":32,"pct":-0.67},{"anio":2018,"sexo":"Hombres","edad":33,"pct":-0.70},{"anio":2018,"sexo":"Hombres","edad":34,"pct":-0.68},{"anio":2018,"sexo":"Hombres","edad":35,"pct":-0.69},{"anio":2018,"sexo":"Hombres","edad":36,"pct":-0.67},{"anio":2018,"sexo":"Hombres","edad":37,"pct":-0.75},{"anio":2018,"sexo":"Hombres","edad":38,"pct":-0.75},{"anio":2018,"sexo":"Hombres","edad":39,"pct":-0.77},
{"anio":2018,"sexo":"Hombres","edad":40,"pct":-0.63},{"anio":2018,"sexo":"Hombres","edad":41,"pct":-0.62},{"anio":2018,"sexo":"Hombres","edad":42,"pct":-0.62},{"anio":2018,"sexo":"Hombres","edad":43,"pct":-0.61},{"anio":2018,"sexo":"Hombres","edad":44,"pct":-0.60},{"anio":2018,"sexo":"Hombres","edad":45,"pct":-0.59},{"anio":2018,"sexo":"Hombres","edad":46,"pct":-0.55},{"anio":2018,"sexo":"Hombres","edad":47,"pct":-0.60},{"anio":2018,"sexo":"Hombres","edad":48,"pct":-0.65},{"anio":2018,"sexo":"Hombres","edad":49,"pct":-0.66},
{"anio":2018,"sexo":"Hombres","edad":50,"pct":-0.66},{"anio":2018,"sexo":"Hombres","edad":51,"pct":-0.61},{"anio":2018,"sexo":"Hombres","edad":52,"pct":-0.61},{"anio":2018,"sexo":"Hombres","edad":53,"pct":-0.61},{"anio":2018,"sexo":"Hombres","edad":54,"pct":-0.55},{"anio":2018,"sexo":"Hombres","edad":55,"pct":-0.42},{"anio":2018,"sexo":"Hombres","edad":56,"pct":-0.42},{"anio":2018,"sexo":"Hombres","edad":57,"pct":-0.53},{"anio":2018,"sexo":"Hombres","edad":58,"pct":-0.53},{"anio":2018,"sexo":"Hombres","edad":59,"pct":-0.55},
{"anio":2018,"sexo":"Hombres","edad":60,"pct":-0.51},{"anio":2018,"sexo":"Hombres","edad":61,"pct":-0.51},{"anio":2018,"sexo":"Hombres","edad":62,"pct":-0.40},{"anio":2018,"sexo":"Hombres","edad":63,"pct":-0.40},{"anio":2018,"sexo":"Hombres","edad":64,"pct":-0.39},{"anio":2018,"sexo":"Hombres","edad":65,"pct":-0.37},{"anio":2018,"sexo":"Hombres","edad":66,"pct":-0.35},{"anio":2018,"sexo":"Hombres","edad":67,"pct":-0.31},{"anio":2018,"sexo":"Hombres","edad":68,"pct":-0.27},{"anio":2018,"sexo":"Hombres","edad":69,"pct":-0.26},
{"anio":2018,"sexo":"Hombres","edad":70,"pct":-0.26},{"anio":2018,"sexo":"Hombres","edad":71,"pct":-0.24},{"anio":2018,"sexo":"Hombres","edad":72,"pct":-0.23},{"anio":2018,"sexo":"Hombres","edad":73,"pct":-0.21},{"anio":2018,"sexo":"Hombres","edad":74,"pct":-0.20},{"anio":2018,"sexo":"Hombres","edad":75,"pct":-0.195},{"anio":2018,"sexo":"Hombres","edad":76,"pct":-0.18},{"anio":2018,"sexo":"Hombres","edad":77,"pct":-0.17},{"anio":2018,"sexo":"Hombres","edad":78,"pct":-0.14},{"anio":2018,"sexo":"Hombres","edad":79,"pct":-0.135},
{"anio":2018,"sexo":"Hombres","edad":80,"pct":-0.13},{"anio":2018,"sexo":"Hombres","edad":81,"pct":-0.105},{"anio":2018,"sexo":"Hombres","edad":82,"pct":-0.095},{"anio":2018,"sexo":"Hombres","edad":83,"pct":-0.083},{"anio":2018,"sexo":"Hombres","edad":84,"pct":-0.067},{"anio":2018,"sexo":"Hombres","edad":85,"pct":-0.058},{"anio":2018,"sexo":"Hombres","edad":86,"pct":-0.05},{"anio":2018,"sexo":"Hombres","edad":87,"pct":-0.04},{"anio":2018,"sexo":"Hombres","edad":88,"pct":-0.035},{"anio":2018,"sexo":"Hombres","edad":89,"pct":-0.03},
{"anio":2018,"sexo":"Hombres","edad":90,"pct":-0.025},{"anio":2018,"sexo":"Hombres","edad":91,"pct":-0.022},{"anio":2018,"sexo":"Hombres","edad":92,"pct":-0.018},{"anio":2018,"sexo":"Hombres","edad":93,"pct":-0.016},{"anio":2018,"sexo":"Hombres","edad":94,"pct":-0.013},{"anio":2018,"sexo":"Hombres","edad":95,"pct":-0.01},{"anio":2018,"sexo":"Hombres","edad":96,"pct":-0.009},{"anio":2018,"sexo":"Hombres","edad":97,"pct":-0.008},{"anio":2018,"sexo":"Hombres","edad":98,"pct":-0.006},{"anio":2018,"sexo":"Hombres","edad":99,"pct":-0.005},{"anio":2018,"sexo":"Hombres","edad":100,"pct":-0.004},
{"anio":2018,"sexo":"Mujeres","edad":0,"pct":0.81},{"anio":2018,"sexo":"Mujeres","edad":1,"pct":0.83},{"anio":2018,"sexo":"Mujeres","edad":2,"pct":0.84},{"anio":2018,"sexo":"Mujeres","edad":3,"pct":0.86},{"anio":2018,"sexo":"Mujeres","edad":4,"pct":0.91},{"anio":2018,"sexo":"Mujeres","edad":5,"pct":0.92},{"anio":2018,"sexo":"Mujeres","edad":6,"pct":0.97},{"anio":2018,"sexo":"Mujeres","edad":7,"pct":0.95},{"anio":2018,"sexo":"Mujeres","edad":8,"pct":1.00},{"anio":2018,"sexo":"Mujeres","edad":9,"pct":1.00},
{"anio":2018,"sexo":"Mujeres","edad":10,"pct":1.05},{"anio":2018,"sexo":"Mujeres","edad":11,"pct":1.02},{"anio":2018,"sexo":"Mujeres","edad":12,"pct":1.05},{"anio":2018,"sexo":"Mujeres","edad":13,"pct":1.07},{"anio":2018,"sexo":"Mujeres","edad":14,"pct":1.08},{"anio":2018,"sexo":"Mujeres","edad":15,"pct":1.16},{"anio":2018,"sexo":"Mujeres","edad":16,"pct":1.10},{"anio":2018,"sexo":"Mujeres","edad":17,"pct":1.03},{"anio":2018,"sexo":"Mujeres","edad":18,"pct":0.97},{"anio":2018,"sexo":"Mujeres","edad":19,"pct":0.90},
{"anio":2018,"sexo":"Mujeres","edad":20,"pct":0.83},{"anio":2018,"sexo":"Mujeres","edad":21,"pct":0.75},{"anio":2018,"sexo":"Mujeres","edad":22,"pct":0.73},{"anio":2018,"sexo":"Mujeres","edad":23,"pct":0.70},{"anio":2018,"sexo":"Mujeres","edad":24,"pct":0.70},{"anio":2018,"sexo":"Mujeres","edad":25,"pct":0.68},{"anio":2018,"sexo":"Mujeres","edad":26,"pct":0.68},{"anio":2018,"sexo":"Mujeres","edad":27,"pct":0.62},{"anio":2018,"sexo":"Mujeres","edad":28,"pct":0.59},{"anio":2018,"sexo":"Mujeres","edad":29,"pct":0.65},
{"anio":2018,"sexo":"Mujeres","edad":30,"pct":0.64},{"anio":2018,"sexo":"Mujeres","edad":31,"pct":0.68},{"anio":2018,"sexo":"Mujeres","edad":32,"pct":0.61},{"anio":2018,"sexo":"Mujeres","edad":33,"pct":0.65},{"anio":2018,"sexo":"Mujeres","edad":34,"pct":0.65},{"anio":2018,"sexo":"Mujeres","edad":35,"pct":0.60},{"anio":2018,"sexo":"Mujeres","edad":36,"pct":0.62},{"anio":2018,"sexo":"Mujeres","edad":37,"pct":0.51},{"anio":2018,"sexo":"Mujeres","edad":38,"pct":0.58},{"anio":2018,"sexo":"Mujeres","edad":39,"pct":0.58},
{"anio":2018,"sexo":"Mujeres","edad":40,"pct":0.55},{"anio":2018,"sexo":"Mujeres","edad":41,"pct":0.55},{"anio":2018,"sexo":"Mujeres","edad":42,"pct":0.54},{"anio":2018,"sexo":"Mujeres","edad":43,"pct":0.52},{"anio":2018,"sexo":"Mujeres","edad":44,"pct":0.50},{"anio":2018,"sexo":"Mujeres","edad":45,"pct":0.49},{"anio":2018,"sexo":"Mujeres","edad":46,"pct":0.60},{"anio":2018,"sexo":"Mujeres","edad":47,"pct":0.60},{"anio":2018,"sexo":"Mujeres","edad":48,"pct":0.57},{"anio":2018,"sexo":"Mujeres","edad":49,"pct":0.54},
{"anio":2018,"sexo":"Mujeres","edad":50,"pct":0.62},{"anio":2018,"sexo":"Mujeres","edad":51,"pct":0.48},{"anio":2018,"sexo":"Mujeres","edad":52,"pct":0.46},{"anio":2018,"sexo":"Mujeres","edad":53,"pct":0.48},{"anio":2018,"sexo":"Mujeres","edad":54,"pct":0.44},{"anio":2018,"sexo":"Mujeres","edad":55,"pct":0.38},{"anio":2018,"sexo":"Mujeres","edad":56,"pct":0.38},{"anio":2018,"sexo":"Mujeres","edad":57,"pct":0.36},{"anio":2018,"sexo":"Mujeres","edad":58,"pct":0.36},{"anio":2018,"sexo":"Mujeres","edad":59,"pct":0.35},
{"anio":2018,"sexo":"Mujeres","edad":60,"pct":0.33},{"anio":2018,"sexo":"Mujeres","edad":61,"pct":0.43},{"anio":2018,"sexo":"Mujeres","edad":62,"pct":0.30},{"anio":2018,"sexo":"Mujeres","edad":63,"pct":0.28},{"anio":2018,"sexo":"Mujeres","edad":64,"pct":0.28},{"anio":2018,"sexo":"Mujeres","edad":65,"pct":0.24},{"anio":2018,"sexo":"Mujeres","edad":66,"pct":0.27},{"anio":2018,"sexo":"Mujeres","edad":67,"pct":0.27},{"anio":2018,"sexo":"Mujeres","edad":68,"pct":0.20},{"anio":2018,"sexo":"Mujeres","edad":69,"pct":0.21},
{"anio":2018,"sexo":"Mujeres","edad":70,"pct":0.22},{"anio":2018,"sexo":"Mujeres","edad":71,"pct":0.20},{"anio":2018,"sexo":"Mujeres","edad":72,"pct":0.19},{"anio":2018,"sexo":"Mujeres","edad":73,"pct":0.18},{"anio":2018,"sexo":"Mujeres","edad":74,"pct":0.17},{"anio":2018,"sexo":"Mujeres","edad":75,"pct":0.16},{"anio":2018,"sexo":"Mujeres","edad":76,"pct":0.16},{"anio":2018,"sexo":"Mujeres","edad":77,"pct":0.15},{"anio":2018,"sexo":"Mujeres","edad":78,"pct":0.14},{"anio":2018,"sexo":"Mujeres","edad":79,"pct":0.19},
{"anio":2018,"sexo":"Mujeres","edad":80,"pct":0.13},{"anio":2018,"sexo":"Mujeres","edad":81,"pct":0.11},{"anio":2018,"sexo":"Mujeres","edad":82,"pct":0.10},{"anio":2018,"sexo":"Mujeres","edad":83,"pct":0.09},{"anio":2018,"sexo":"Mujeres","edad":84,"pct":0.086},{"anio":2018,"sexo":"Mujeres","edad":85,"pct":0.07},{"anio":2018,"sexo":"Mujeres","edad":86,"pct":0.06},{"anio":2018,"sexo":"Mujeres","edad":87,"pct":0.045},{"anio":2018,"sexo":"Mujeres","edad":88,"pct":0.04},{"anio":2018,"sexo":"Mujeres","edad":89,"pct":0.035},
{"anio":2018,"sexo":"Mujeres","edad":90,"pct":0.03},{"anio":2018,"sexo":"Mujeres","edad":91,"pct":0.022},{"anio":2018,"sexo":"Mujeres","edad":92,"pct":0.018},{"anio":2018,"sexo":"Mujeres","edad":93,"pct":0.015},{"anio":2018,"sexo":"Mujeres","edad":94,"pct":0.013},{"anio":2018,"sexo":"Mujeres","edad":95,"pct":0.01},{"anio":2018,"sexo":"Mujeres","edad":96,"pct":0.008},{"anio":2018,"sexo":"Mujeres","edad":97,"pct":0.006},{"anio":2018,"sexo":"Mujeres","edad":98,"pct":0.005},{"anio":2018,"sexo":"Mujeres","edad":99,"pct":0.004},{"anio":2018,"sexo":"Mujeres","edad":100,"pct":0.003}
]},
"data":{"name":"pob"},
"columns":2,
"spacing":{"row":45,"column":10.5},
"bounds":"flush",
"resolve":{"scale":{"color":"shared","x":"shared","y":"shared"}},
"concat":[
{"title":{"text":"1985"},"transform":[{"filter":"datum.anio == 1985"}],"width":480,"height":237,
"mark":{"type":"bar","orient":"horizontal","size":2.25},
"encoding":{
"y":{"field":"edad","type":"quantitative","scale":{"domain":[-5.5,105.5],"nice":false,"zero":false},
"axis":{"title":"Edad","titleY":259.5,"titlePadding":9,"values":[0,12.5,25,37.5,50,62.5,75,87.5,100],"labelExpr":"datum.value % 25 === 0 ? datum.label : ''","labelOverlap":false,"gridWidth":{"condition":{"test":"datum.value % 25 === 0","value":1.1},"value":0.55}}},
"x":{"field":"pct","type":"quantitative","stack":null,"scale":{"domain":[-2.56,2.03],"nice":false,"zero":false},
"axis":{"title":null,"labels":false,"values":[-2.5,-2,-1.5,-1,-0.5,0,0.5,1,1.5,2],"gridWidth":{"condition":{"test":"datum.value % 1 === 0","value":1.1},"value":0.55}}},
"color":{"field":"sexo","type":"nominal","scale":{"domain":["Hombres","Mujeres"],"range":["#440154","#2A788E"]},
"legend":{"title":null,"orient":"none","direction":"horizontal","legendX":378,"legendY":579,"padding":0,"symbolType":"M-1.1,-1H1.1V1H-1.1Z","symbolSize":729,"symbolStrokeWidth":0,"symbolOpacity":1,"labelFontSize":18.5,"labelFont":"Liberation Sans","labelColor":"#1A1A1A","labelOffset":8,"columnPadding":12}}
}},
{"title":{"text":"1993"},"transform":[{"filter":"datum.anio == 1993"}],"width":480,"height":237,
"mark":{"type":"bar","orient":"horizontal","size":2.25},
"encoding":{
"y":{"field":"edad","type":"quantitative","scale":{"domain":[-5.5,105.5],"nice":false,"zero":false},
"axis":{"title":null,"labels":false,"values":[0,12.5,25,37.5,50,62.5,75,87.5,100],"gridWidth":{"condition":{"test":"datum.value % 25 === 0","value":1.1},"value":0.55}}},
"x":{"field":"pct","type":"quantitative","stack":null,"scale":{"domain":[-2.56,2.03],"nice":false,"zero":false},
"axis":{"title":null,"labels":false,"values":[-2.5,-2,-1.5,-1,-0.5,0,0.5,1,1.5,2],"gridWidth":{"condition":{"test":"datum.value % 1 === 0","value":1.1},"value":0.55}}},
"color":{"field":"sexo","type":"nominal","scale":{"domain":["Hombres","Mujeres"],"range":["#440154","#2A788E"]},
"legend":{"title":null,"orient":"none","direction":"horizontal","legendX":378,"legendY":579,"padding":0,"symbolType":"M-1.1,-1H1.1V1H-1.1Z","symbolSize":729,"symbolStrokeWidth":0,"symbolOpacity":1,"labelFontSize":18.5,"labelFont":"Liberation Sans","labelColor":"#1A1A1A","labelOffset":8,"columnPadding":12}}
}},
{"title":{"text":"2005"},"transform":[{"filter":"datum.anio == 2005"}],"width":480,"height":237,
"mark":{"type":"bar","orient":"horizontal","size":2.25},
"encoding":{
"y":{"field":"edad","type":"quantitative","scale":{"domain":[-5.5,105.5],"nice":false,"zero":false},
"axis":{"title":null,"values":[0,12.5,25,37.5,50,62.5,75,87.5,100],"labelExpr":"datum.value % 25 === 0 ? datum.label : ''","labelOverlap":false,"gridWidth":{"condition":{"test":"datum.value % 25 === 0","value":1.1},"value":0.55}}},
"x":{"field":"pct","type":"quantitative","stack":null,"scale":{"domain":[-2.56,2.03],"nice":false,"zero":false},
"axis":{"title":"Porcentaje","titleX":485,"titlePadding":8,"values":[-2.5,-2,-1.5,-1,-0.5,0,0.5,1,1.5,2],"labelExpr":"datum.value % 1 === 0 ? abs(datum.value) + '%' : ''","labelOverlap":false,"gridWidth":{"condition":{"test":"datum.value % 1 === 0","value":1.1},"value":0.55}}},
"color":{"field":"sexo","type":"nominal","scale":{"domain":["Hombres","Mujeres"],"range":["#440154","#2A788E"]},
"legend":{"title":null,"orient":"none","direction":"horizontal","legendX":378,"legendY":579,"padding":0,"symbolType":"M-1.1,-1H1.1V1H-1.1Z","symbolSize":729,"symbolStrokeWidth":0,"symbolOpacity":1,"labelFontSize":18.5,"labelFont":"Liberation Sans","labelColor":"#1A1A1A","labelOffset":8,"columnPadding":12}}
}},
{"title":{"text":"2018"},"transform":[{"filter":"datum.anio == 2018"}],"width":480,"height":237,
"mark":{"type":"bar","orient":"horizontal","size":2.25},
"encoding":{
"y":{"field":"edad","type":"quantitative","scale":{"domain":[-5.5,105.5],"nice":false,"zero":false},
"axis":{"title":null,"labels":false,"values":[0,12.5,25,37.5,50,62.5,75,87.5,100],"gridWidth":{"condition":{"test":"datum.value % 25 === 0","value":1.1},"value":0.55}}},
"x":{"field":"pct","type":"quantitative","stack":null,"scale":{"domain":[-2.56,2.03],"nice":false,"zero":false},
"axis":{"title":null,"values":[-2.5,-2,-1.5,-1,-0.5,0,0.5,1,1.5,2],"labelExpr":"datum.value % 1 === 0 ? abs(datum.value) + '%' : ''","labelOverlap":false,"gridWidth":{"condition":{"test":"datum.value % 1 === 0","value":1.1},"value":0.55}}},
"color":{"field":"sexo","type":"nominal","scale":{"domain":["Hombres","Mujeres"],"range":["#440154","#2A788E"]},
"legend":{"title":null,"orient":"none","direction":"horizontal","legendX":378,"legendY":579,"padding":0,"symbolType":"M-1.1,-1H1.1V1H-1.1Z","symbolSize":729,"symbolStrokeWidth":0,"symbolOpacity":1,"labelFontSize":18.5,"labelFont":"Liberation Sans","labelColor":"#1A1A1A","labelOffset":8,"columnPadding":12}}
}}
],
"config":{"view":{"stroke":null},
"title":{"fontSize":16.5,"font":"Liberation Sans","fontWeight":"normal","color":"#1A1A1A","offset":7},
"axis":{"domain":false,"ticks":false,"gridColor":"#EBEBEB","labelColor":"#4D4D4D","labelFontSize":16.5,"labelFont":"Liberation Sans","titleFont":"Liberation Sans","titleFontSize":22,"titleFontWeight":"normal","titleColor":"#1A1A1A"},
"axisY":{"labelPadding":9},
"axisX":{"labelPadding":8}}
}
